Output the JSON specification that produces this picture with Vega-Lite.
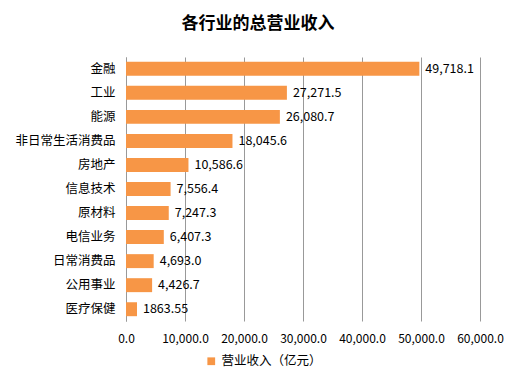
{
  "$schema": "https://vega.github.io/schema/vega-lite/v6.json",
  "width": 354,
  "height": 264,
  "autosize": "none",
  "padding": {"left": 126, "top": 57, "right": 40, "bottom": 62},
  "background": "white",
  "title": {
    "text": "各行业的总营业收入",
    "font": "Noto Sans CJK SC",
    "fontSize": 17,
    "fontWeight": "bold",
    "color": "#000000",
    "anchor": "middle",
    "offset": 24,
    "dx": -45
  },
  "data": {
    "values": [
      {"industry": "金融", "value": 49718.1, "label": "49,718.1", "series": "营业收入（亿元）"},
      {"industry": "工业", "value": 27271.5, "label": "27,271.5", "series": "营业收入（亿元）"},
      {"industry": "能源", "value": 26080.7, "label": "26,080.7", "series": "营业收入（亿元）"},
      {"industry": "非日常生活消费品", "value": 18045.6, "label": "18,045.6", "series": "营业收入（亿元）"},
      {"industry": "房地产", "value": 10586.6, "label": "10,586.6", "series": "营业收入（亿元）"},
      {"industry": "信息技术", "value": 7556.4, "label": "7,556.4", "series": "营业收入（亿元）"},
      {"industry": "原材料", "value": 7247.3, "label": "7,247.3", "series": "营业收入（亿元）"},
      {"industry": "电信业务", "value": 6407.3, "label": "6,407.3", "series": "营业收入（亿元）"},
      {"industry": "日常消费品", "value": 4693.0, "label": "4,693.0", "series": "营业收入（亿元）"},
      {"industry": "公用事业", "value": 4426.7, "label": "4,426.7", "series": "营业收入（亿元）"},
      {"industry": "医疗保健", "value": 1863.55, "label": "1863.55", "series": "营业收入（亿元）"}
    ]
  },
  "encoding": {
    "y": {
      "field": "industry",
      "type": "nominal",
      "sort": null,
      "scale": {"paddingInner": 0.42, "paddingOuter": 0.2},
      "axis": {
        "title": null,
        "labelFont": "Noto Sans CJK SC",
        "labelFontSize": 12.5,
        "labelColor": "#000000",
        "labelPadding": 11,
        "ticks": false,
        "domain": true,
        "domainColor": "#999999",
        "grid": false
      }
    },
    "x": {
      "field": "value",
      "type": "quantitative",
      "scale": {"domain": [0, 60000], "nice": false},
      "axis": {
        "title": null,
        "format": ",.1f",
        "values": [0, 10000, 20000, 30000, 40000, 50000, 60000],
        "labelOverlap": false,
        "labelFlush": false,
        "labelFont": "Noto Sans CJK SC",
        "labelFontSize": 12,
        "labelColor": "#000000",
        "labelPadding": 12,
        "ticks": false,
        "domain": false,
        "grid": true,
        "gridColor": "#999999",
        "gridWidth": 1
      }
    }
  },
  "layer": [
    {
      "mark": {"type": "bar", "color": "#F79646"},
      "encoding": {
        "color": {
          "field": "series",
          "type": "nominal",
          "scale": {"range": ["#F79646"]},
          "legend": {
            "title": null,
            "orient": "none",
            "legendX": 79,
            "legendY": 298,
            "direction": "horizontal",
            "symbolType": "square",
            "symbolSize": 60,
            "symbolOffset": 0,
            "labelFont": "Noto Sans CJK SC",
            "labelFontSize": 12.5,
            "labelColor": "#000000"
          }
        }
      }
    },
    {
      "mark": {"type": "text", "align": "left", "dx": 6, "font": "Noto Sans CJK SC", "fontSize": 12.5, "color": "#000000"},
      "encoding": {"text": {"field": "label"}}
    }
  ],
  "config": {"view": {"stroke": null}}
}
